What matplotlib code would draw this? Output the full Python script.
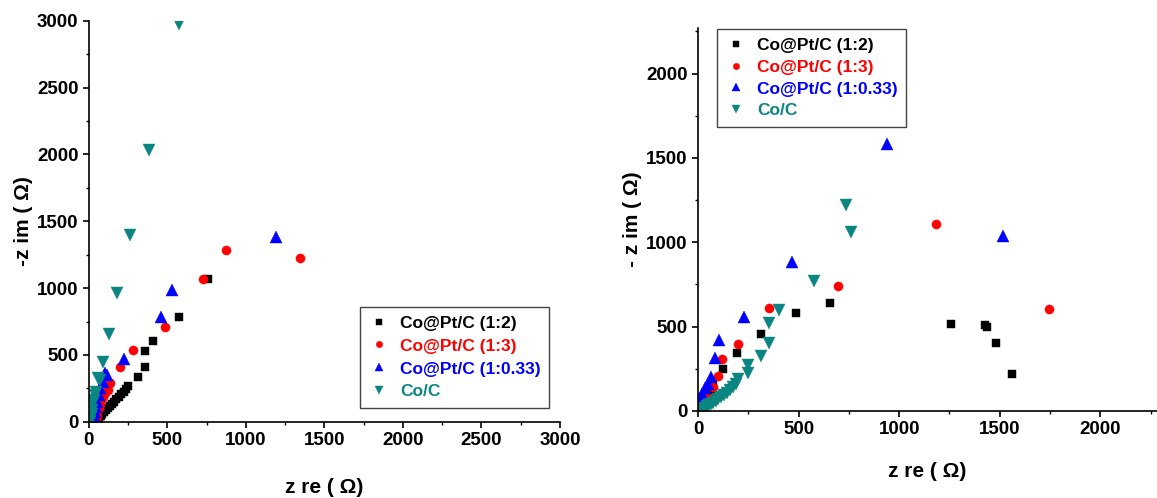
import matplotlib.pyplot as plt
from matplotlib.ticker import MultipleLocator

plt.rcParams['font.family'] = ['Liberation Sans', 'DejaVu Sans']
plt.rcParams['font.weight'] = 'bold'

labels = ['Co@Pt/C (1:2)', 'Co@Pt/C (1:3)', 'Co@Pt/C (1:0.33)', 'Co/C']
colors = ['black', '#ff0000', '#0000ff', '#0b8582']
markers = ['s', 'o', '^', 'v']
msizes = [6.2, 6.6, 8.8, 8.8]

# left panel: z re / -z im for each sample
left_re_12 = [50, 58, 66, 75, 85, 96, 108, 120, 133, 146, 160, 175, 190, 205, 222, 238, 251,
              311, 355, 355, 406, 574, 760]
left_im_12 = [0, 12, 26, 40, 55, 70, 86, 102, 118, 134, 150, 168, 186, 205, 225, 245, 265,
              332, 412, 529, 606, 781, 1065]
left_re_13 = [39, 44, 50, 55, 62, 70, 80, 92, 103, 124, 134, 198, 279, 487, 725, 873, 1345]
left_im_13 = [0, 20, 45, 70, 100, 130, 160, 188, 213, 238, 288, 407, 537, 711, 1065, 1284, 1222]
left_re_033 = [20, 25, 30, 38, 45, 55, 62, 71, 90, 103, 113, 226, 457, 531, 1192]
left_im_033 = [0, 20, 45, 75, 113, 150, 200, 250, 300, 362, 350, 467, 786, 985, 1379]
left_re_co = [5, 10, 14, 18, 22, 28, 34, 39, 48, 60, 71, 92, 130, 181, 262, 383, 575]
left_im_co = [0, 13, 35, 60, 90, 138, 160, 200, 225, 325, 312, 449, 656, 960, 1396, 2031, 2973]

# right panel
right_re_12 = [5, 15, 25, 40, 55, 65, 76, 126, 192, 313, 487, 656, 1259, 1428, 1438, 1481, 1562]
right_im_12 = [5, 20, 35, 60, 90, 120, 164, 247, 345, 454, 582, 638, 513, 510, 496, 405, 219]
right_re_13 = [5, 15, 30, 45, 51, 73, 101, 121, 200, 353, 694, 1183, 1745]
right_im_13 = [5, 25, 50, 70, 85, 144, 207, 308, 395, 612, 740, 1108, 602]
right_re_033 = [3, 10, 10, 20, 35, 50, 63, 85, 106, 230, 467, 941, 1516]
right_im_033 = [10, 30, 75, 100, 134, 160, 203, 312, 421, 555, 883, 1580, 1037]
right_re_co = [5, 15, 25, 35, 45, 55, 65, 75, 88, 100, 115, 130, 145, 160, 175, 190, 200,
               250, 250, 313, 353, 353, 404, 577, 760, 736]
right_im_co = [3, 8, 14, 20, 28, 35, 42, 50, 60, 70, 82, 95, 108, 122, 140, 160, 188,
               223, 272, 326, 405, 523, 598, 772, 1060, 1220]

fig = plt.figure(figsize=(11.57, 4.98), dpi=100)
ax1 = fig.add_axes([0.0768, 0.153, 0.4072, 0.8054])
ax2 = fig.add_axes([0.6033, 0.1747, 0.3964, 0.769])


def draw(ax, series, xlim, ylim, ylabel, xpad, legend_loc, anchor, spacing):
    for (xs, ys), lab, c, m, ms in zip(series, labels, colors, markers, msizes):
        ax.plot(xs, ys, m, color=c, ms=ms, mec=c, mew=0.3, ls='none', label=lab)
    ax.set_xlim(*xlim)
    ax.set_ylim(*ylim)
    for s in ['top', 'right']:
        ax.spines[s].set_visible(False)
    for s in ['left', 'bottom']:
        ax.spines[s].set_linewidth(1.2)
    ax.xaxis.set_major_locator(MultipleLocator(500))
    ax.xaxis.set_minor_locator(MultipleLocator(250))
    ax.yaxis.set_major_locator(MultipleLocator(500))
    ax.yaxis.set_minor_locator(MultipleLocator(250))
    ax.tick_params(which='major', direction='out', length=4, width=1.2, labelsize=13.5)
    ax.tick_params(which='minor', direction='out', length=2.5, width=1.0)
    ax.set_xlabel('z re ( Ω)', fontsize=15, fontweight='bold', labelpad=xpad)
    ax.set_ylabel(ylabel, fontsize=15, fontweight='bold', labelpad=3)
    leg = ax.legend(loc=legend_loc, bbox_to_anchor=anchor, borderaxespad=0,
                    fontsize=12.5, markerscale=0.7, handletextpad=0.6,
                    handlelength=1.2, labelspacing=spacing, borderpad=0.5,
                    fancybox=False, framealpha=1, edgecolor='#444444')
    leg.get_frame().set_linewidth(1.0)
    for t, c in zip(leg.get_texts(), colors):
        t.set_color(c)
        t.set_fontweight('bold')
    return leg


draw(ax1, [(left_re_12, left_im_12), (left_re_13, left_im_13),
           (left_re_033, left_im_033), (left_re_co, left_im_co)],
     (0, 3000), (0, 3000), '-z im ( Ω)', 21, 'lower right', (0.977, 0.034), 0.45)

draw(ax2, [(right_re_12, right_im_12), (right_re_13, right_im_13),
           (right_re_033, right_im_033), (right_re_co, right_im_co)],
     (0, 2280), (0, 2270), '- z im ( Ω)', 17, 'upper left', (0.041, 0.997), 0.38)

fig.savefig('out.png', dpi=100)
